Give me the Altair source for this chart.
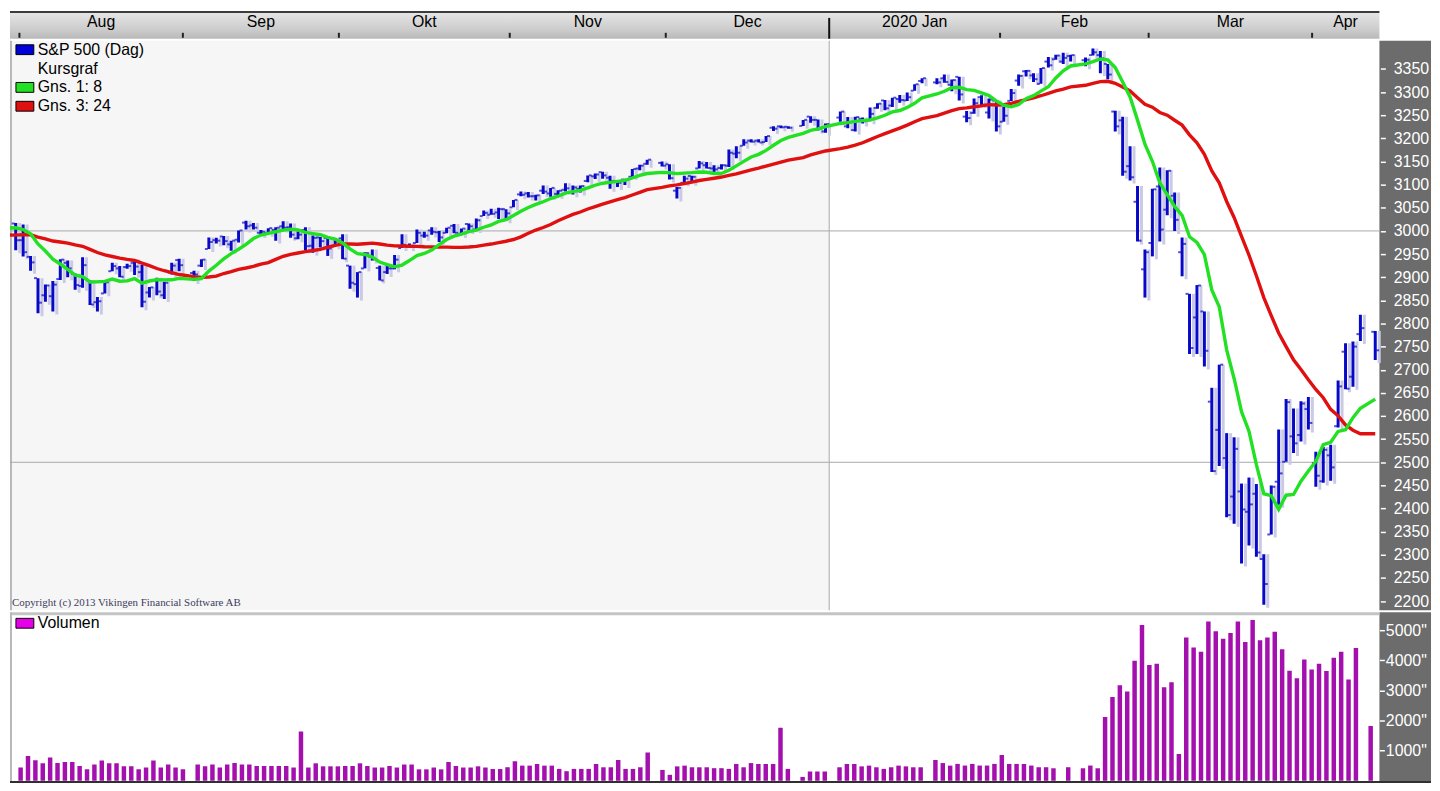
import altair as alt
import pandas as pd

FONT = "Liberation Sans"

# ---------------- data ----------------
holidays = ["2019-07-04", "2019-09-02", "2019-11-28", "2019-12-25",
            "2020-01-01", "2020-01-20", "2020-02-17", "2020-04-10"]
first_shown = "2019-07-31"

# closes before the first shown bar (needed only to start the averages)
warmup_close = [2925, 2942, 2964, 2973, 2996, 2990, 2976, 2980, 2993, 3000, 3014, 3014,
                3004, 2984, 2995, 2977, 2985, 3005, 3020, 3004, 3026, 3021, 3013]

open_ = [3016,
         2980, 2944, 2898, 2861, 2859, 2896, 2931, 2907, 2881, 2894, 2846, 2865, 2913, 2919, 2922, 2931, 2911, 2867, 2893, 2861, 2910, 2937,
         2909, 2925, 2961, 2980, 2988, 2971, 2981, 3018, 3012, 2996, 2996, 3002, 3010, 3008, 2984, 3002, 2968, 2986, 2985, 2967,
         2984, 2925, 2885, 2919, 2944, 2920, 2911, 2919, 2963, 2966, 2974, 2990, 3001, 2997, 2996, 3011, 2994, 3015, 3003, 3032, 3035, 3040, 3047,
         3051, 3079, 3081, 3075, 3087, 3081, 3080, 3089, 3084, 3091, 3108, 3118, 3127, 3115, 3108, 3111, 3117, 3135, 3145, 3147,
         3144, 3087, 3104, 3119, 3135, 3142, 3135, 3136, 3141, 3167, 3184, 3195, 3195, 3192, 3223, 3226, 3225, 3227, 3247, 3240, 3215,
         3245, 3226, 3218, 3242, 3239, 3266, 3282, 3271, 3285, 3282, 3303, 3324, 3321, 3330, 3316, 3333, 3247, 3255, 3289, 3256, 3282,
         3236, 3281, 3325, 3345, 3336, 3318, 3366, 3371, 3366, 3378, 3369, 3380, 3380, 3361, 3258, 3239, 3140, 3063, 2917,
         2974, 3096, 3046, 3076, 2954, 2864, 2813, 2826, 2631, 2570, 2509, 2426, 2437, 2393, 2432, 2291, 2344, 2458, 2501, 2556, 2559, 2615,
         2498, 2459, 2515, 2578, 2739, 2685, 2777, 2782]

high = [3017,
        3014, 2946, 2898, 2884, 2892, 2939, 2936, 2908, 2943, 2894, 2857, 2894, 2931, 2924, 2929, 2939, 2927, 2879, 2899, 2890, 2931, 2940,
        2914, 2939, 2986, 2985, 2989, 2979, 3001, 3022, 3017, 3002, 3006, 3008, 3021, 3016, 2999, 3008, 2990, 2987, 2987, 2984,
        2993, 2925, 2911, 2954, 2960, 2925, 2929, 2948, 2993, 2973, 3003, 2998, 3008, 3000, 3007, 3015, 3005, 3016, 3027, 3044, 3048, 3050, 3047,
        3067, 3085, 3084, 3078, 3098, 3093, 3088, 3103, 3098, 3098, 3120, 3124, 3128, 3119, 3110, 3113, 3134, 3143, 3154, 3150,
        3144, 3095, 3119, 3119, 3151, 3149, 3142, 3144, 3176, 3183, 3198, 3198, 3198, 3205, 3226, 3228, 3226, 3240, 3248, 3241, 3232,
        3258, 3246, 3247, 3245, 3267, 3276, 3283, 3288, 3294, 3299, 3317, 3330, 3330, 3338, 3327, 3333, 3259, 3286, 3293, 3286, 3282,
        3268, 3307, 3338, 3348, 3341, 3352, 3376, 3381, 3385, 3381, 3375, 3394, 3389, 3361, 3260, 3247, 3183, 3097, 2960,
        3091, 3137, 3131, 3083, 2986, 2864, 2883, 2826, 2661, 2711, 2563, 2554, 2454, 2467, 2453, 2301, 2450, 2571, 2637, 2616, 2632, 2641,
        2523, 2533, 2538, 2677, 2757, 2761, 2819, 2784]

low = [2958,
       2945, 2914, 2822, 2847, 2826, 2894, 2900, 2873, 2877, 2840, 2826, 2865, 2913, 2900, 2918, 2905, 2835, 2856, 2861, 2853, 2906, 2913,
       2892, 2922, 2961, 2973, 2969, 2957, 2975, 3003, 3003, 2991, 2994, 2979, 3003, 2985, 2982, 2958, 2953, 2964, 2946, 2967,
       2939, 2875, 2856, 2919, 2936, 2893, 2907, 2917, 2963, 2963, 2974, 2985, 2992, 2976, 2995, 2995, 2991, 3000, 3002, 3032, 3035, 3026, 3023,
       3051, 3075, 3072, 3066, 3080, 3074, 3076, 3085, 3079, 3083, 3105, 3112, 3113, 3091, 3095, 3099, 3117, 3131, 3143, 3139,
       3111, 3070, 3103, 3104, 3135, 3135, 3126, 3133, 3138, 3157, 3184, 3191, 3191, 3192, 3216, 3222, 3221, 3227, 3234, 3217, 3212,
       3236, 3222, 3215, 3232, 3237, 3264, 3261, 3268, 3277, 3281, 3303, 3319, 3317, 3320, 3302, 3282, 3235, 3253, 3272, 3243, 3215,
       3236, 3281, 3314, 3334, 3322, 3318, 3353, 3370, 3361, 3366, 3356, 3379, 3341, 3328, 3215, 3119, 3109, 2977, 2856,
       2945, 2977, 3034, 3000, 2902, 2734, 2734, 2707, 2479, 2492, 2381, 2367, 2281, 2320, 2296, 2192, 2344, 2408, 2501, 2520, 2545, 2571,
       2447, 2456, 2460, 2575, 2658, 2663, 2762, 2721]

close = [2980,
         2954, 2932, 2845, 2882, 2884, 2938, 2919, 2883, 2926, 2841, 2848, 2889, 2924, 2901, 2924, 2923, 2847, 2878, 2869, 2888, 2925, 2926,
         2906, 2938, 2976, 2979, 2978, 2979, 3001, 3010, 3007, 2998, 3006, 3007, 3007, 2992, 2992, 2967, 2985, 2978, 2962, 2977,
         2940, 2888, 2911, 2952, 2939, 2893, 2919, 2938, 2970, 2966, 2996, 2990, 2998, 2986, 3007, 2996, 3005, 3010, 3023, 3039, 3037, 3047, 3038,
         3067, 3078, 3075, 3077, 3085, 3093, 3087, 3092, 3094, 3097, 3120, 3122, 3120, 3108, 3104, 3110, 3134, 3141, 3154, 3141,
         3114, 3093, 3113, 3117, 3146, 3136, 3133, 3142, 3169, 3169, 3191, 3193, 3191, 3205, 3221, 3224, 3223, 3240, 3240, 3221, 3231,
         3258, 3235, 3246, 3237, 3253, 3275, 3265, 3288, 3283, 3289, 3317, 3330, 3321, 3322, 3326, 3295, 3244, 3276, 3273, 3284, 3226,
         3249, 3298, 3335, 3346, 3328, 3352, 3358, 3379, 3374, 3380, 3370, 3386, 3373, 3338, 3226, 3128, 3116, 2979, 2954,
         3090, 3003, 3130, 3024, 2972, 2747, 2882, 2741, 2481, 2711, 2386, 2529, 2398, 2409, 2305, 2237, 2447, 2476, 2630, 2541, 2627, 2585,
         2471, 2527, 2489, 2664, 2659, 2750, 2790, 2742]

volume = [440,
          820, 680, 580, 770, 590, 620, 620, 490, 380, 540, 670, 580, 580, 480, 480, 380, 440, 670, 440, 540, 440, 380,
          540, 480, 540, 440, 540, 590, 540, 540, 490, 490, 490, 490, 490, 440, 1640, 440, 580, 480, 480, 480,
          490, 490, 580, 490, 440, 440, 490, 440, 540, 540, 380, 380, 440, 380, 620, 490, 440, 440, 480, 440, 390, 390, 450,
          645, 503, 503, 558, 503, 503, 394, 318, 394, 394, 394, 558, 448, 448, 688, 394, 394, 448, 938, 361,
          198, 478, 503, 448, 448, 448, 418, 418, 394, 558, 448, 588, 558, 558, 558, 1758, 394, 128, 308, 308, 308,
          448, 558, 558, 478, 503, 448, 394, 448, 503, 478, 448, 448, 688, 588, 503, 560, 505, 560, 505, 505, 560,
          855, 560, 560, 560, 505, 450, 450, 415, None, 450, 415, 505, 415, 2115, 2780, 3170, 2970, 3990, 5180,
          3850, 3890, 3110, 3270, 890, 4760, 4430, 4285, 5290, 4965, 4720, 4910, 5290, 4615, 5340, 4670, 4760, 4950, 4370, 3660, 3410, 4030,
          3700, 3890, 3650, 4090, 4285, 3365, 4415, 1820]

month_labels = ["Aug", "Sep", "Okt", "Nov", "Dec", "2020 Jan", "Feb", "Mar", "Apr"]
price_ticks = [2200, 2250, 2300, 2350, 2400, 2450, 2500, 2550, 2600, 2650, 2700, 2750,
               2800, 2850, 2900, 2950, 3000, 3050, 3100, 3150, 3200, 3250, 3300, 3350]
volume_ticks = [1000, 2000, 3000, 4000, 5000]
price_gridlines = [2500, 3000]
legend_labels = ["S&P 500 (Dag)", "Kursgraf", "Gns. 1: 8", "Gns. 3: 24"]
legend_colors = ["#0000d8", None, "#22e022", "#e01010"]

# ---------------- colours / layout ----------------
BLUE = "#0808c8"
GREEN = "#22e022"
RED = "#e01010"
PURPLE = "#a310ad"
AXIS_BG = "#6c6c6c"

W = 1432            # panel width including the right axis column
P = 1380            # plot area width
H_STRIP, H_PRICE, H_VOL = 28, 574, 172
SLOT = 7.53 * P / 1388
X0 = -5.8 / 7.53
X1 = X0 + W / SLOT
xscale = alt.Scale(domain=[X0, X1], nice=False, zero=False)
yscale = alt.Scale(domain=[2180, 3411], nice=False, zero=False)
vscale = alt.Scale(domain=[-75, 5597], nice=False, zero=False)

# ---------------- tables ----------------
days = list(pd.bdate_range("2019-06-27", "2020-04-13"))
hol = set(pd.to_datetime(holidays))
slot0 = days.index(pd.Timestamp(first_shown))
trade = [d for d in days if d not in hol]
n_w = len(warmup_close)
assert len(trade) == n_w + len(close)
rows = []
for k, d in enumerate(trade):
    s = days.index(d) - slot0
    if k < n_w:
        rows.append(dict(idx=s, close=warmup_close[k]))
    else:
        j = k - n_w
        rows.append(dict(idx=s, open=open_[j], high=high[j], low=low[j],
                         close=close[j], volume=volume[j]))
all_df = pd.DataFrame(rows)
line_df = all_df[["idx", "close"]]
bars_df = all_df[all_df["idx"] >= 0].copy()
vol_df = bars_df[["idx", "volume"]].dropna()

shown = pd.Series([d for d in days if d >= pd.Timestamp("2019-08-01")])
mrows = []
for i, (per, grp) in enumerate(shown.groupby(shown.dt.to_period("M"))):
    slots = [days.index(d) - slot0 for d in grp]
    mrows.append(dict(label=month_labels[i], first=min(slots) - 0.5,
                      center=(min(slots) + max(slots)) / 2, year=bool(per.month == 1)))
months_df = pd.DataFrame(mrows)
grid_df = pd.DataFrame({"level": price_gridlines})
one = pd.DataFrame({"k": [0]})

X = lambda f: alt.X(f, scale=xscale, axis=None)

price_axis = alt.Axis(orient="right", offset=-(W - P) + 1, values=price_ticks, tickSize=5,
                      tickColor="white", tickWidth=1.5, labelColor="white", labelFontSize=16,
                      labelFont=FONT, labelPadding=8, domain=False, grid=False, title=None,
                      format="d", labelOverlap=False, labelFlush=False, zindex=2)
vol_axis = alt.Axis(orient="right", offset=-(W - P), values=volume_ticks, tickSize=5,
                    tickColor="white", tickWidth=1.5, labelColor="white", labelFontSize=16,
                    labelFont=FONT, labelPadding=1, domain=False, grid=False, title=None,
                    format="d", labelExpr="datum.label + '\"'",
                    labelOverlap=False, labelFlush=False, zindex=2)

# ---------------- top month strip ----------------
grad = alt.LinearGradient(gradient="linear",
                          stops=[alt.GradientStop(color="#e8e8e8", offset=0),
                                 alt.GradientStop(color="#cdcdcd", offset=0.65),
                                 alt.GradientStop(color="#b9b9b9", offset=1)],
                          x1=0, x2=0, y1=0, y2=1)
strip = alt.layer(
    alt.Chart(one).mark_rect(color=grad).encode(
        x=alt.value(0), x2=alt.value(P), y=alt.value(0), y2=alt.value(H_STRIP)),
    alt.Chart(one).mark_rule(color="#3c3c3c", strokeWidth=2).encode(
        x=alt.value(0), x2=alt.value(P), y=alt.value(1)),
    alt.Chart(months_df).transform_filter("!datum.year").mark_rule(
        color="#202020", strokeWidth=2).encode(
        x=X("first:Q"), y=alt.value(22), y2=alt.value(27)),
    alt.Chart(months_df).transform_filter("datum.year").mark_rule(
        color="#101010", strokeWidth=2).encode(
        x=X("first:Q"), y=alt.value(7), y2=alt.value(H_STRIP)),
    alt.Chart(months_df).mark_text(font=FONT, fontSize=16, color="black",
                                   baseline="middle", align="center").encode(
        x=X("center:Q"), y=alt.value(11), text="label:N"),
).properties(width=W, height=H_STRIP)

# ---------------- price panel ----------------
pb = alt.Chart(bars_df)
price_layers = [
    alt.Chart(months_df).transform_filter("datum.year").mark_rect(color="#f6f6f6").encode(
        x=X("first:Q"), x2=alt.value(0), y=alt.value(0), y2=alt.value(H_PRICE)),
    alt.Chart(one).mark_rect(color=AXIS_BG).encode(
        x=alt.value(P), x2=alt.value(W), y=alt.value(0), y2=alt.value(H_PRICE)),
    alt.Chart(one).mark_rule(color="#b8b8b8", strokeWidth=2).encode(
        x=alt.value(1), y=alt.value(0), y2=alt.value(H_PRICE)),
    alt.Chart(grid_df).mark_rule(color="#a8a8a8", strokeWidth=1).encode(
        y=alt.Y("level:Q", scale=yscale, axis=price_axis), x=alt.value(0), x2=alt.value(P)),
    alt.Chart(months_df).transform_filter("datum.year").mark_rule(
        color="#a8a8a8", strokeWidth=1).encode(
        x=X("first:Q"), y=alt.value(0), y2=alt.value(H_PRICE)),
    pb.mark_rule(color="#cacae4", strokeWidth=3, xOffset=4, yOffset=3, clip=True).encode(
        x=X("idx:Q"), y=alt.Y("low:Q", scale=yscale, axis=price_axis), y2="high:Q"),
    pb.mark_rule(color=BLUE, strokeWidth=3, clip=True).encode(
        x=X("idx:Q"), y=alt.Y("low:Q", scale=yscale, axis=price_axis), y2="high:Q"),
    pb.mark_tick(orient="horizontal", color=BLUE, size=3, thickness=2, xOffset=-2.5).encode(
        x=X("idx:Q"), y=alt.Y("open:Q", scale=yscale, axis=price_axis)),
    pb.mark_tick(orient="horizontal", color=BLUE, size=3, thickness=2, xOffset=2.5).encode(
        x=X("idx:Q"), y=alt.Y("close:Q", scale=yscale, axis=price_axis)),
    alt.Chart(line_df).transform_window(
        ma24="mean(close)", frame=[-23, 0], sort=[alt.SortField("idx")]
    ).transform_filter("datum.idx >= -1").mark_line(color=RED, strokeWidth=3.4, clip=True).encode(
        x=X("idx:Q"), y=alt.Y("ma24:Q", scale=yscale, axis=price_axis)),
    alt.Chart(line_df).transform_window(
        ma8="mean(close)", frame=[-7, 0], sort=[alt.SortField("idx")]
    ).transform_filter("datum.idx >= -1").mark_line(color=GREEN, strokeWidth=3.4, clip=True).encode(
        x=X("idx:Q"), y=alt.Y("ma8:Q", scale=yscale, axis=price_axis)),
]
sw_shape = "M-1,-0.55L1,-0.55L1,0.55L-1,0.55Z"
for r, (lab, col) in enumerate(zip(legend_labels, legend_colors)):
    ypx = 9 + 19 * r
    if col is not None:
        price_layers.append(alt.Chart(one).mark_point(
            shape=sw_shape, size=324, filled=True, fill=col, stroke="black",
            strokeWidth=1, opacity=1).encode(x=alt.value(15), y=alt.value(ypx)))
    price_layers.append(alt.Chart(one).mark_text(
        text=lab, font=FONT, fontSize=16, color="black", align="left",
        baseline="middle").encode(x=alt.value(28), y=alt.value(ypx)))
price_layers.append(alt.Chart(one).mark_text(
    text="Copyright (c) 2013 Vikingen Financial Software AB", font="Liberation Serif",
    fontSize=11, color="#3c3c5c", align="left", baseline="middle").encode(
    x=alt.value(2), y=alt.value(H_PRICE - 7)))
price = alt.layer(*price_layers).properties(width=W, height=H_PRICE)

# ---------------- volume panel ----------------
vol = alt.layer(
    alt.Chart(one).mark_rect(color=AXIS_BG).encode(
        x=alt.value(P), x2=alt.value(W), y=alt.value(0), y2=alt.value(H_VOL)),
    alt.Chart(one).mark_rule(color="#c4c4c4", strokeWidth=3).encode(
        x=alt.value(0), x2=alt.value(P), y=alt.value(1.5)),
    alt.Chart(one).mark_rule(color="#b8b8b8", strokeWidth=2).encode(
        x=alt.value(1), y=alt.value(0), y2=alt.value(H_VOL)),
    alt.Chart(vol_df).mark_bar(color=PURPLE, size=4.5, clip=True).encode(
        x=X("idx:Q"), y=alt.Y("volume:Q", scale=vscale, axis=vol_axis), y2=alt.datum(0)),
    alt.Chart(one).mark_rule(color="#303030", strokeWidth=2).encode(
        x=alt.value(0), x2=alt.value(W), y=alt.value(H_VOL - 1)),
    alt.Chart(one).mark_point(shape=sw_shape, size=324, filled=True, fill="#e800e8",
                              stroke="black", strokeWidth=1, opacity=1).encode(
        x=alt.value(15), y=alt.value(11)),
    alt.Chart(one).mark_text(text="Volumen", font=FONT, fontSize=16, color="black",
                             align="left", baseline="middle").encode(
        x=alt.value(28), y=alt.value(11)),
).properties(width=W, height=H_VOL)

chart = alt.vconcat(strip, price, vol, spacing=0).resolve_scale(
    x="independent", y="independent"
).properties(padding=0, background="white").configure_view(stroke=None)

chart.save("out.html", embed_options={"renderer": "svg", "actions": False})
